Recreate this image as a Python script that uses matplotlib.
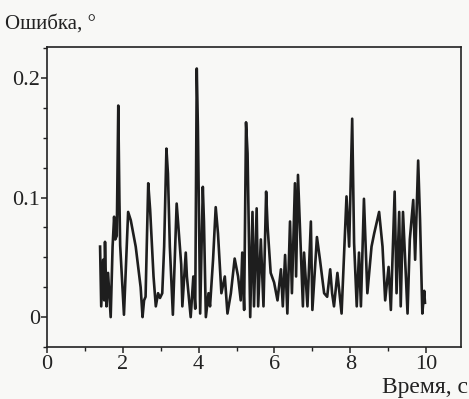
import matplotlib
matplotlib.use('Agg')
import matplotlib.pyplot as plt
from matplotlib.ticker import MultipleLocator, FixedLocator, FuncFormatter

# error trace (time, s / error, deg)
time_s = [1.40, 1.43, 1.48, 1.51, 1.53, 1.57, 1.61, 1.68, 1.73, 1.77,
          1.80, 1.84, 1.88, 1.91, 1.93, 2.03, 2.14, 2.21, 2.34, 2.47,
          2.52, 2.56, 2.60, 2.67, 2.72, 2.81, 2.87, 2.93, 2.98, 3.04,
          3.09, 3.15, 3.19, 3.24, 3.32, 3.42, 3.48, 3.54, 3.57, 3.66,
          3.69, 3.79, 3.86, 3.91, 3.95, 3.98, 4.04, 4.11, 4.14, 4.19,
          4.26, 4.30, 4.38, 4.45, 4.51, 4.60, 4.69, 4.76, 4.85, 4.95,
          5.04, 5.11, 5.15, 5.20, 5.25, 5.29, 5.36, 5.42, 5.46, 5.53,
          5.57, 5.64, 5.71, 5.78, 5.82, 5.90, 5.99, 6.08, 6.17, 6.22,
          6.28, 6.34, 6.41, 6.46, 6.54, 6.57, 6.62, 6.69, 6.75, 6.78,
          6.87, 6.96, 7.00, 7.12, 7.20, 7.31, 7.39, 7.47, 7.52, 7.57,
          7.66, 7.77, 7.90, 7.97, 8.05, 8.10, 8.17, 8.23, 8.28, 8.36,
          8.45, 8.56, 8.63, 8.76, 8.85, 8.92, 9.01, 9.07, 9.17, 9.22,
          9.29, 9.33, 9.39, 9.51, 9.57, 9.66, 9.71, 9.79, 9.84, 9.90,
          9.95, 9.97]
error_deg = [0.059, 0.009, 0.048, 0.014, 0.063, 0.009, 0.037, 0.000, 0.059, 0.084,
             0.065, 0.068, 0.177, 0.098, 0.060, 0.002, 0.088, 0.081, 0.059, 0.025,
             0.000, 0.014, 0.017, 0.112, 0.090, 0.034, 0.009, 0.020, 0.016, 0.020,
             0.059, 0.141, 0.120, 0.059, 0.002, 0.095, 0.070, 0.044, 0.009, 0.054,
             0.034, 0.000, 0.034, 0.007, 0.208, 0.159, 0.003, 0.109, 0.080, 0.000,
             0.020, 0.009, 0.048, 0.092, 0.070, 0.020, 0.034, 0.003, 0.020, 0.049,
             0.034, 0.014, 0.054, 0.006, 0.163, 0.137, 0.000, 0.088, 0.009, 0.091,
             0.009, 0.065, 0.009, 0.105, 0.075, 0.037, 0.029, 0.014, 0.040, 0.009,
             0.052, 0.003, 0.080, 0.020, 0.112, 0.034, 0.119, 0.059, 0.009, 0.054,
             0.009, 0.080, 0.006, 0.067, 0.048, 0.020, 0.017, 0.040, 0.020, 0.009,
             0.037, 0.003, 0.101, 0.059, 0.166, 0.062, 0.009, 0.054, 0.009, 0.099,
             0.020, 0.059, 0.070, 0.088, 0.059, 0.014, 0.042, 0.006, 0.105, 0.020,
             0.088, 0.009, 0.088, 0.003, 0.065, 0.098, 0.048, 0.131, 0.081, 0.003,
             0.022, 0.012]

x_major = [0, 2, 4, 6, 8, 10]
y_major = [0, 0.1, 0.2]

plt.rcParams['font.family'] = ['Liberation Serif', 'DejaVu Serif']

fig = plt.figure(figsize=(4.69, 3.99), dpi=100, facecolor='#f8f8f6')
ax = fig.add_axes([47 / 469, 1 - 347 / 399, 414 / 469, 300 / 399])
ax.set_facecolor('#f8f8f6')

ax.plot(time_s, error_deg, color='#1e1e1e', linewidth=1.9)

ax.set_xlim(0, 10.92)
ax.set_ylim(-0.025, 0.226)

ax.xaxis.set_major_locator(FixedLocator(x_major))
ax.xaxis.set_minor_locator(MultipleLocator(1))
ax.yaxis.set_major_locator(FixedLocator(y_major))
ax.yaxis.set_minor_locator(MultipleLocator(0.025))
ax.yaxis.set_major_formatter(FuncFormatter(lambda v, p: '0' if v == 0 else f'{v:.1f}'))

ax.tick_params(which='both', direction='out', colors='#222222', labelsize=16)
ax.tick_params(axis='x', which='major', length=4, width=1.1, pad=2)
ax.tick_params(axis='y', which='major', length=4, width=1.1, pad=1)
ax.tick_params(which='minor', length=3, width=1.0)

for s in ax.spines.values():
    s.set_linewidth(1.2)
    s.set_color('#222222')

fig.text(5 / 469, 1 - 24 / 399, 'Ошибка, °', fontsize=15, va='center', ha='left', color='#222222')
fig.text(468 / 469, 1 - 387 / 399, 'Время, с', fontsize=17, va='center', ha='right', color='#222222')

fig.savefig('out.png', dpi=100, facecolor=fig.get_facecolor())
